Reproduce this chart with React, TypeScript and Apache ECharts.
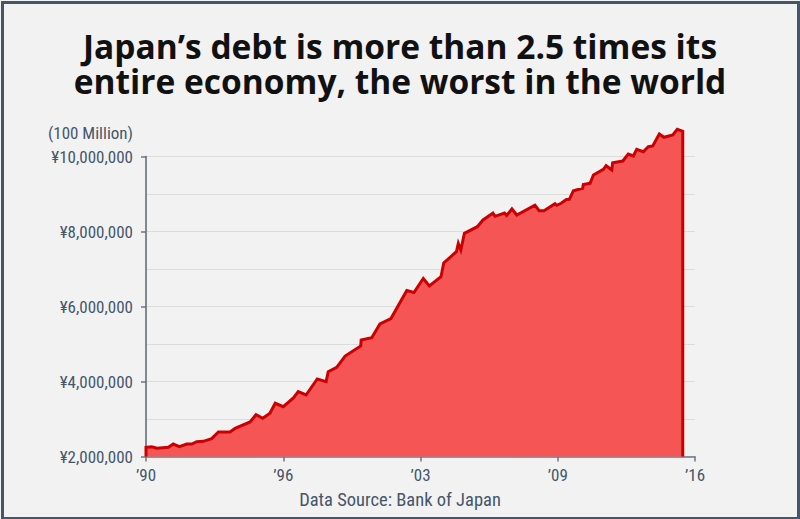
import React, { useEffect, useRef } from "react";
import * as echarts from "echarts";

// Decimal years of each vertex of the debt line
const YEARS = [
  1990.0, 1990.27, 1990.51, 1991.06, 1991.29, 1991.58, 1991.93, 1992.17, 1992.4, 1992.71,
  1993.11, 1993.43, 1993.98, 1994.22, 1994.93, 1995.21, 1995.53, 1995.87, 1996.12, 1996.5,
  1996.98, 1997.21, 1997.58, 1998.11, 1998.53, 1998.63, 1999.03, 1999.43, 2000.17, 2000.19,
  2000.69, 2001.08, 2001.6, 2002.35, 2002.69, 2003.13, 2003.42, 2003.97, 2004.1, 2004.7,
  2004.79, 2004.91, 2005.08, 2005.69, 2005.96, 2006.43, 2006.53, 2006.98, 2007.08, 2007.33,
  2007.56, 2008.42, 2008.62, 2008.85, 2009.37, 2009.45, 2009.66, 2009.91, 2010.05, 2010.24,
  2010.68, 2010.71, 2011.03, 2011.19, 2011.66, 2011.79, 2012.06, 2012.1, 2012.58, 2012.84,
  2013.08, 2013.24, 2013.55, 2013.79, 2014.0, 2014.31, 2014.53, 2014.95, 2015.16, 2015.42,
];

// Debt in units of 100 million yen
const DEBT = [
  2245000, 2261000, 2219000, 2245000, 2333000, 2261000, 2333000, 2333000, 2395000, 2405000,
  2475000, 2653000, 2653000, 2752000, 2920000, 3115000, 3019000, 3152000, 3419000, 3328000,
  3560000, 3728000, 3640000, 4067000, 3995000, 4261000, 4379000, 4680000, 4947000, 5107000,
  5168000, 5533000, 5680000, 6427000, 6373000, 6747000, 6547000, 6795000, 7160000, 7461000,
  7685000, 7507000, 7952000, 8128000, 8307000, 8493000, 8405000, 8493000, 8427000, 8600000,
  8440000, 8699000, 8555000, 8555000, 8741000, 8699000, 8752000, 8853000, 8859000, 9088000,
  9152000, 9253000, 9285000, 9507000, 9659000, 9755000, 9640000, 9835000, 9880000, 10067000,
  10013000, 10192000, 10128000, 10261000, 10280000, 10600000, 10512000, 10573000, 10725000, 10672000,
];

const START_YEAR = 1990;
const END_YEAR = 2016;
const X_LABELS = ["\u201990", "\u201996", "\u201903", "\u201909", "\u201916"];
const Y_MIN = 2000000;
const Y_MAX = 10000000;
const Y_STEP = 2000000;

const TITLE_LINES = [
  "Japan\u2019s debt is more than 2.5 times its",
  "entire economy, the worst in the world",
];
const UNIT = "(100 Million)";
const SOURCE = "Data Source: Bank of Japan";

const NARROW = "'Liberation Sans Narrow', 'Roboto Condensed', 'DejaVu Sans Condensed', Roboto, sans-serif";
const TEXT_COLOR = "#46566a";

export default function App() {
  const ref = useRef<HTMLDivElement>(null);

  useEffect(() => {
    if (!ref.current) return;
    const chart = echarts.init(ref.current, null, { renderer: "svg" });
    const span = END_YEAR - START_YEAR;
    const xStep = span / (X_LABELS.length - 1);
    const pts: [number, number][] = YEARS.map((y, i) => [y - START_YEAR, DEBT[i]]);
    const data = [
      [pts[0][0], Y_MIN],
      ...pts,
      [pts[pts.length - 1][0], Y_MIN],
    ];

    chart.setOption({
      animation: false,
      backgroundColor: "#f2f2f2",
      grid: {
        left: 146,
        right: 105,
        top: 156.5,
        bottom: 62.5,
        containLabel: false,
        outerBoundsMode: "none",
      },
      xAxis: {
        type: "value",
        min: 0,
        max: span,
        interval: xStep,
        axisLine: { show: true, lineStyle: { color: "#6b7685", width: 1.5 } },
        axisTick: { show: true, length: 5, lineStyle: { color: "#6b7685", width: 1.5 } },
        splitLine: { show: false },
        axisLabel: {
          margin: 10,
          fontFamily: NARROW,
          fontSize: 17,
          color: TEXT_COLOR,
          formatter: (v: number) => X_LABELS[Math.round(v / xStep)] ?? "",
        },
      },
      yAxis: {
        type: "value",
        min: Y_MIN,
        max: Y_MAX,
        interval: Y_STEP,
        axisLine: { show: true, lineStyle: { color: "#5a6474", width: 1.5 } },
        axisTick: { show: true, length: 5, lineStyle: { color: "#6b7685", width: 1.5 } },
        splitLine: { show: true, lineStyle: { color: "#dcdcdc", width: 1 } },
        minorTick: { show: false, splitNumber: 2 },
        minorSplitLine: { show: true, lineStyle: { color: "#dcdcdc", width: 1 } },
        axisLabel: {
          margin: 13,
          fontFamily: NARROW,
          fontSize: 17,
          color: TEXT_COLOR,
          formatter: (v: number) => "\u00a5" + v.toLocaleString("en-US"),
        },
      },
      series: [
        {
          type: "line",
          data,
          symbol: "none",
          clip: false,
          lineStyle: { color: "#cc0000", width: 3, join: "miter" },
          areaStyle: { color: "#f55555", opacity: 1 },
          z: 3,
        },
      ],
      graphic: [
        {
          type: "text",
          left: "center",
          top: 28,
          style: {
            text: TITLE_LINES.join("\n"),
            font: "bold 33.5px 'Open Sans', sans-serif",
            lineHeight: 35,
            textAlign: "center",
            fill: "#111111",
          },
        },
        {
          type: "text",
          right: 800 - 133,
          top: 124,
          style: {
            text: UNIT,
            font: `17px ${NARROW}`,
            fill: TEXT_COLOR,
            textAlign: "right",
          },
        },
        {
          type: "text",
          left: "center",
          top: 490,
          style: {
            text: SOURCE,
            font: `18.5px ${NARROW}`,
            fill: TEXT_COLOR,
          },
        },
        {
          type: "rect",
          left: 0,
          top: 0,
          z: 100,
          shape: { x: 1.5, y: 1.5, width: 796, height: 516 },
          style: { fill: "none", stroke: "#46566a", lineWidth: 3 },
        },
      ],
    });
    return () => chart.dispose();
  }, []);

  return (
    <div
      ref={ref}
      style={{ position: "fixed", left: 0, top: 0, width: 800, height: 519 }}
    />
  );
}
